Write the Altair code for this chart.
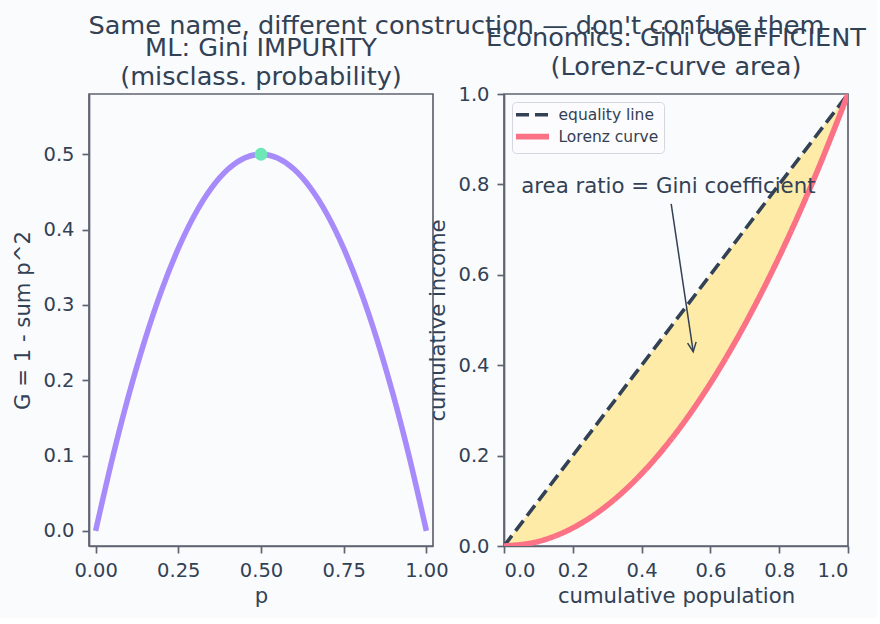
import altair as alt
import pandas as pd

# ---------------- data ----------------
# Left panel: Gini impurity vs p
p_vals = [0.0, 0.05, 0.1, 0.15, 0.2, 0.25, 0.3, 0.35, 0.4, 0.45, 0.5,
          0.55, 0.6, 0.65, 0.7, 0.75, 0.8, 0.85, 0.9, 0.95, 1.0]
g_vals = [0.0, 0.095, 0.18, 0.255, 0.32, 0.375, 0.42, 0.455, 0.48, 0.495, 0.5,
          0.495, 0.48, 0.455, 0.42, 0.375, 0.32, 0.255, 0.18, 0.095, 0.0]
peak_p = [0.5]
peak_g = [0.5]

# Right panel: Lorenz curve
pop_vals = [0.0, 0.1, 0.2, 0.3, 0.4, 0.5, 0.6, 0.7, 0.8, 0.9, 1.0]
lorenz_vals = [0.0, 0.01, 0.04, 0.09, 0.16, 0.25, 0.36, 0.49, 0.64, 0.81, 1.0]
equality_x = [0.0, 1.0]
equality_y = [0.0, 1.0]
series_names = ["equality line", "Lorenz curve"]

ann_text = ["area ratio = Gini coefficient"]
ann_x = [0.05]
ann_y = [0.78]
arrow_tail_x = [0.486]
arrow_tail_y = [0.757]
arrow_tip_x = [0.55]
arrow_tip_y = [0.43]

suptitle = "Same name, different construction \u2014 don't confuse them"
left_title = ["ML: Gini IMPURITY", "(misclass. probability)"]
right_title = ["Economics: Gini COEFFICIENT", "(Lorenz-curve area)"]

# ---------------- styling ----------------
TEXT = "#334155"
SPINE = "#5f6472"
BG = "#fafbfd"
PURPLE = "#a78bfa"
GREEN = "#6ee7b7"
ROSE = "#fb7185"
YELLOW = "#fde68a"
DARK = "#334155"
W, H = 344, 452

# ---------------- left panel ----------------
df_g = pd.DataFrame({"p": p_vals, "g": g_vals})
df_peak = pd.DataFrame({"p": peak_p, "g": peak_g})

xl = alt.X("p:Q", scale=alt.Scale(domain=[-0.02, 1.02], nice=False, zero=False),
           axis=alt.Axis(values=[0, 0.25, 0.5, 0.75, 1.0], format=".2f", title="p"))
yl = alt.Y("g:Q", scale=alt.Scale(domain=[-0.02, 0.58], nice=False, zero=False),
           axis=alt.Axis(values=[0, 0.1, 0.2, 0.3, 0.4, 0.5], format=".1f",
                         title="G = 1 - sum p^2"))

curve = alt.Chart(df_g).mark_line(color=PURPLE, strokeWidth=5.5,
                                  interpolate="monotone").encode(x=xl, y=yl)
peak = alt.Chart(df_peak).mark_circle(color=GREEN, size=165, opacity=1).encode(
    x="p:Q", y="g:Q")
left = alt.layer(curve, peak).properties(
    width=W, height=H,
    title=alt.TitleParams(left_title, lineHeight=29, offset=3.7))

# ---------------- right panel ----------------
df_fill = pd.DataFrame({"x": pop_vals, "lo": lorenz_vals, "hi": pop_vals})
df_lines = pd.concat([
    pd.DataFrame({"x": equality_x, "y": equality_y, "series": series_names[0]}),
    pd.DataFrame({"x": pop_vals, "y": lorenz_vals, "series": series_names[1]}),
], ignore_index=True)
df_ann = pd.DataFrame({"x": ann_x, "y": ann_y, "t": ann_text})
df_arrow = pd.DataFrame({"x": arrow_tail_x, "y": arrow_tail_y,
                         "x2": arrow_tip_x, "y2": arrow_tip_y})

xs = alt.Scale(domain=[0, 1], nice=False)
ys = alt.Scale(domain=[0, 1], nice=False)
xr = alt.X("x:Q", scale=xs, axis=alt.Axis(values=[0, 0.2, 0.4, 0.6, 0.8, 1.0],
                                          format=".1f", title="cumulative population"))
yr = alt.Y("y:Q", scale=ys, axis=alt.Axis(values=[0, 0.2, 0.4, 0.6, 0.8, 1.0],
                                          format=".1f", title="cumulative income"))

fill = alt.Chart(df_fill).mark_area(color=YELLOW, opacity=0.75,
                                    interpolate="monotone", clip=True).encode(
    x=alt.X("x:Q", scale=xs), y=alt.Y("lo:Q", scale=ys), y2="hi:Q")

leg = alt.Legend(title=None, orient="top-left")
lines = alt.Chart(df_lines).mark_line(interpolate="monotone", clip=True).encode(
    x=xr, y=yr,
    color=alt.Color("series:N", scale=alt.Scale(domain=series_names, range=[DARK, ROSE]),
                    legend=leg),
    strokeDash=alt.StrokeDash("series:N",
                              scale=alt.Scale(domain=series_names, range=[[13, 6], [1, 0]]),
                              legend=leg),
    strokeWidth=alt.StrokeWidth("series:N",
                                scale=alt.Scale(domain=series_names, range=[3.6, 5.6]),
                                legend=leg),
)

ann = alt.Chart(df_ann).mark_text(align="left", baseline="alphabetic", fontSize=21.3,
                                  color=TEXT).encode(
    x=alt.X("x:Q", scale=xs), y=alt.Y("y:Q", scale=ys), text="t:N")
arrow = alt.Chart(df_arrow).mark_rule(color=DARK, strokeWidth=1.5).encode(
    x=alt.X("x:Q", scale=xs), y=alt.Y("y:Q", scale=ys), x2="x2:Q", y2="y2:Q")
head = alt.Chart(df_arrow).mark_point(
    shape="M-0.47,-1L0,0L0.47,-1", size=340, filled=False, color=DARK,
    strokeWidth=1.5, angle=351.7, opacity=1).encode(
    x=alt.X("x2:Q", scale=xs), y=alt.Y("y2:Q", scale=ys))

right = alt.layer(fill, lines, ann, arrow, head).properties(
    width=W, height=H,
    title=alt.TitleParams(right_title, lineHeight=29, offset=3.7))

chart = alt.hconcat(left, right, spacing=71, bounds="flush").resolve_legend(
    color="independent", strokeDash="independent", strokeWidth="independent"
).properties(
    title=alt.TitleParams(suptitle, anchor="middle", fontSize=25.6, dx=17, offset=-15),
    padding={"left": 12, "top": 14, "right": 10, "bottom": 10},
    background=BG,
).configure(font="DejaVu Sans").configure_view(
    stroke=SPINE, strokeWidth=1.7
).configure_axis(
    domainColor=SPINE, domainWidth=1.7, tickColor=SPINE, tickWidth=1.7, tickSize=7,
    labelFontSize=19.5, titleFontSize=21.2, labelColor=TEXT,
    titleColor=TEXT, grid=False, titleFontWeight="normal",
    labelFont="DejaVu Sans", titleFont="DejaVu Sans"
).configure_axisX(
    labelPadding=8, titlePadding=6
).configure_axisY(
    labelPadding=8, titlePadding=9
).configure_title(
    font="DejaVu Sans", fontSize=25.6, fontWeight="normal", color=TEXT
).configure_legend(
    labelFontSize=15.5, labelColor=TEXT, labelFont="DejaVu Sans",
    symbolType="M-3.3,0L3.3,0", symbolSize=100, symbolOffset=7.5, labelOffset=18,
    fillColor="#fcfcfe", strokeColor="#d4d7de", cornerRadius=4, padding=5, offset=8,
    rowPadding=0.6
)

chart.save("out.html", embed_options={"renderer": "svg", "actions": False})
